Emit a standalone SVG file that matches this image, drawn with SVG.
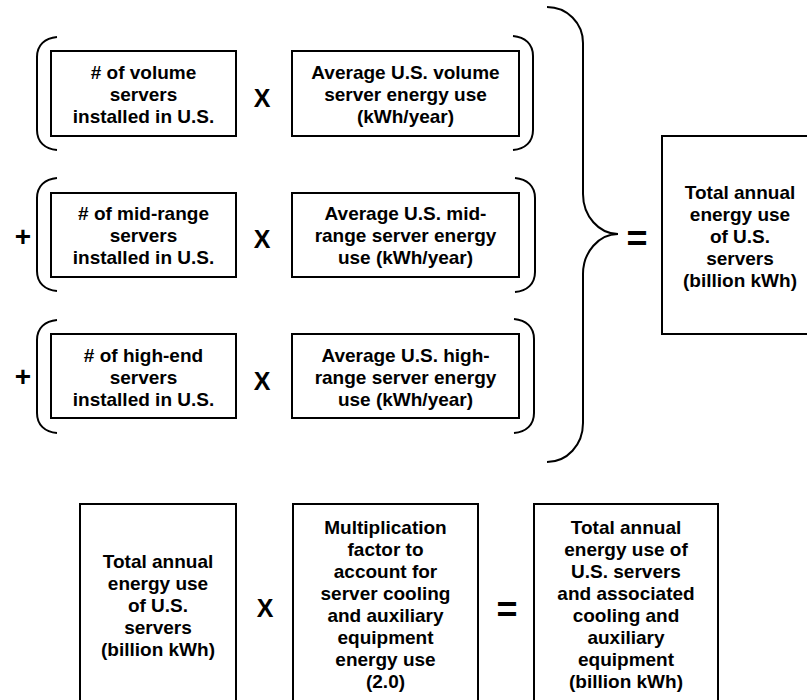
<svg xmlns="http://www.w3.org/2000/svg" width="807" height="700" viewBox="0 0 807 700">
<style>
.box{fill:#fff;stroke:#000;stroke-width:2}
.br{fill:none;stroke:#000;stroke-width:2}
.t{font-family:"Liberation Sans",Arial,sans-serif;font-weight:bold;font-size:19px;text-anchor:middle;fill:#000}
.op{font-family:"Liberation Sans",Arial,sans-serif;font-weight:bold;text-anchor:middle;fill:#000}
.x{font-size:25px}
.p{font-size:28px}
.e{font-size:36px}
</style>
<defs>
<path id="lp" d="M57,37 C45,38 37,45 37,57 L37,130 C37,142 45,149 57,150"/>
<path id="rp" d="M513,36 C525,37 533,44 533,56 L533,130 C533,142 525,149 513,150"/>
</defs>
<rect width="807" height="700" fill="#fff"/>
<g id="connectors">
<use href="#lp" class="br"/>
<use href="#rp" class="br"/>
<use href="#lp" class="br" transform="translate(0,141)"/>
<use href="#rp" class="br" transform="translate(2,142)"/>
<use href="#lp" class="br" transform="translate(0,283)"/>
<use href="#rp" class="br" transform="translate(1,283)"/>
<path class="br" d="M547,7 C567,7 583,23 583,43 L583,194 C583,216 599,234 618,234 C599,234 583,252 583,274 L583,423 C583,445 567,462 547,462"/>
</g>
<g id="operators">
<text class="op x" x="262" y="107">X</text>
<text class="op x" x="262" y="248">X</text>
<text class="op x" x="262" y="390">X</text>
<text class="op p" x="23" y="246">+</text>
<text class="op p" x="23" y="386">+</text>
<text class="op e" x="637" y="251">=</text>
<text class="op x" x="265" y="617">X</text>
<text class="op e" x="507" y="622">=</text>
</g>
<g id="volume-count">
<rect class="box" x="51" y="51" width="185" height="85"/>
<text class="t" x="143.5" y="79">
<tspan x="143.5" y="79"># of volume</tspan><tspan x="143.5" y="101">servers</tspan><tspan x="143.5" y="123">installed in U.S.</tspan></text>
</g>
<g id="volume-energy">
<rect class="box" x="292" y="51" width="227" height="85"/>
<text class="t"><tspan x="405.5" y="79">Average U.S. volume</tspan><tspan x="405.5" y="101">server energy use</tspan><tspan x="405.5" y="123">(kWh/year)</tspan></text>
</g>
<g id="midrange-count">
<rect class="box" x="51" y="193" width="185" height="84"/>
<text class="t"><tspan x="143.5" y="220"># of mid-range</tspan><tspan x="143.5" y="242">servers</tspan><tspan x="143.5" y="264">installed in U.S.</tspan></text>
</g>
<g id="midrange-energy">
<rect class="box" x="292" y="193" width="227" height="84"/>
<text class="t"><tspan x="405.5" y="220">Average U.S. mid-</tspan><tspan x="405.5" y="242">range server energy</tspan><tspan x="405.5" y="264">use (kWh/year)</tspan></text>
</g>
<g id="highend-count">
<rect class="box" x="51" y="334" width="185" height="84"/>
<text class="t"><tspan x="143.5" y="362"># of high-end</tspan><tspan x="143.5" y="384">servers</tspan><tspan x="143.5" y="406">installed in U.S.</tspan></text>
</g>
<g id="highend-energy">
<rect class="box" x="292" y="334" width="227" height="84"/>
<text class="t"><tspan x="405.5" y="362">Average U.S. high-</tspan><tspan x="405.5" y="384">range server energy</tspan><tspan x="405.5" y="406">use (kWh/year)</tspan></text>
</g>
<g id="total-servers">
<rect class="box" x="662" y="136" width="160" height="198"/>
<text class="t"><tspan x="740" y="199">Total annual</tspan><tspan x="740" y="221">energy use</tspan><tspan x="740" y="243">of U.S.</tspan><tspan x="740" y="265">servers</tspan><tspan x="740" y="287">(billion kWh)</tspan></text>
</g>
<g id="total-servers-2">
<rect class="box" x="80" y="504" width="156" height="200"/>
<text class="t"><tspan x="158" y="568">Total annual</tspan><tspan x="158" y="590">energy use</tspan><tspan x="158" y="612">of U.S.</tspan><tspan x="158" y="634">servers</tspan><tspan x="158" y="656">(billion kWh)</tspan></text>
</g>
<g id="multiplication-factor">
<rect class="box" x="293" y="504" width="185" height="200"/>
<text class="t"><tspan x="385.5" y="534">Multiplication</tspan><tspan x="385.5" y="556">factor to</tspan><tspan x="385.5" y="578">account for</tspan><tspan x="385.5" y="600">server cooling</tspan><tspan x="385.5" y="622">and auxiliary</tspan><tspan x="385.5" y="644">equipment</tspan><tspan x="385.5" y="666">energy use</tspan><tspan x="385.5" y="688">(2.0)</tspan></text>
</g>
<g id="total-with-cooling">
<rect class="box" x="534" y="504" width="184" height="200"/>
<text class="t"><tspan x="626" y="534">Total annual</tspan><tspan x="626" y="556">energy use of</tspan><tspan x="626" y="578">U.S. servers</tspan><tspan x="626" y="600">and associated</tspan><tspan x="626" y="622">cooling and</tspan><tspan x="626" y="644">auxiliary</tspan><tspan x="626" y="666">equipment</tspan><tspan x="626" y="688">(billion kWh)</tspan></text>
</g>
</svg>
